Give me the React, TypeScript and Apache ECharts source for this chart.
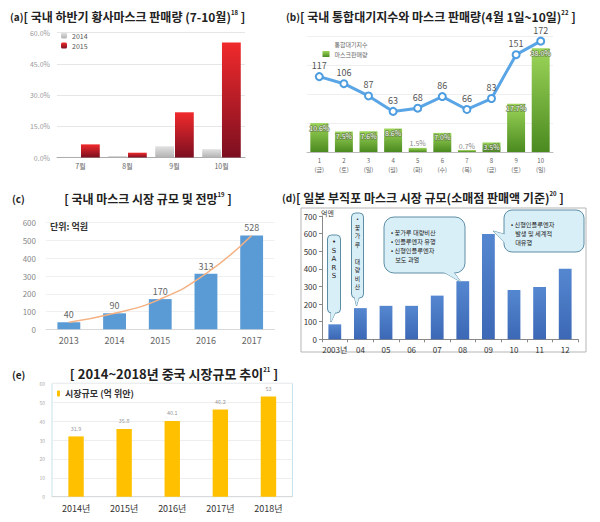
import React, { useEffect, useRef } from "react";
import * as echarts from "echarts";

// (a) 국내 하반기 황사마스크 판매량
const monthsA = ["7월", "8월", "9월", "10월"];
const sales2014 = [0.3, 0.7, 5.4, 4.0];
const sales2015 = [6.3, 2.3, 21.7, 55.2];
const ticksA = [0, 15, 30, 45, 60];

// (b) 통합대기지수와 마스크 판매량
const daysB = ["1\n(금)", "2\n(토)", "3\n(일)", "4\n(월)", "5\n(화)", "6\n(수)", "7\n(목)", "8\n(금)", "9\n(토)", "10\n(일)"];
const airIndex = [117, 106, 87, 63, 68, 86, 66, 83, 151, 172];
const maskSales = [10.6, 7.5, 7.6, 8.6, 1.5, 7.0, 0.7, 3.5, 17.7, 38.0];

// (c) 국내 마스크 시장 규모
const yearsC = ["2013", "2014", "2015", "2016", "2017"];
const marketC = [40, 90, 170, 313, 528];

// (d) 일본 부직포 마스크 시장 규모
const yearsD = ["2003년", "04", "05", "06", "07", "08", "09", "10", "11", "12"];
const marketD = [85, 177, 190, 190, 248, 330, 598, 280, 297, 400];

// (e) 중국 시장규모
const yearsE = ["2014년", "2015년", "2016년", "2017년", "2018년"];
const marketE = [31.9, 35.8, 40.1, 46.2, 53];

const FONT = "'Noto Sans CJK KR', 'Noto Sans', sans-serif";
const LATIN = "'DejaVu Sans', sans-serif";

const vgrad = (top: string, bottom: string) =>
  new echarts.graphic.LinearGradient(0, 0, 0, 1, [
    { offset: 0, color: top },
    { offset: 1, color: bottom },
  ]);

const titleRich = {
  p: { fontSize: 10, color: "#222", fontFamily: FONT, lineHeight: 14 },
  t: { fontSize: 12, fontWeight: "bold", color: "#222", fontFamily: FONT, lineHeight: 14 },
  s: { fontSize: 6, fontWeight: "bold", color: "#222", fontFamily: FONT, lineHeight: 8, verticalAlign: "top" },
};

function callout(rect: any, tail: number[][], lines: string[], tx: number, ty: number, align: string, lh: number, fs: number, family: string) {
  const fill = "#d9eff8";
  const stroke = "#5c8ea6";
  const els: any[] = [
    { type: "polygon", z: 100, shape: { points: tail }, style: { fill, stroke, lineWidth: 1 } },
    { type: "rect", z: 101, shape: { ...rect }, style: { fill, stroke, lineWidth: 1 } },
    { type: "polygon", z: 102, shape: { points: tail }, style: { fill, stroke: "none" } },
  ];
  lines.forEach((ln, i) => {
    if (!ln) return;
    els.push({
      type: "text", z: 103, x: tx, y: ty + i * lh,
      style: { text: ln, fill: "#222", fontSize: fs, fontFamily: family, align, verticalAlign: "middle" },
    });
  });
  return els;
}

export default function App() {
  const ref = useRef<HTMLDivElement>(null);
  useEffect(() => {
    if (!ref.current) return;
    const chart = echarts.init(ref.current, undefined, { renderer: "svg" });
    const option: any = {
      animation: false,
      backgroundColor: "#fff",
      textStyle: { fontFamily: FONT },
      title: [
        { left: 10, top: 9, padding: 0, text: "{p|(a)}{t|[ 국내 하반기 황사마스크 판매량 (7-10월)}{s|18}{t| ]}", textStyle: { rich: titleRich } },
        { left: 286, top: 9, padding: 0, text: "{p|(b)}{t|[ 국내 통합대기지수와 마스크 판매량(4월 1일~10일)}{s|22}{t| ]}", textStyle: { rich: titleRich } },
        { left: 12, top: 191, padding: 0, text: "{p|(c)}", textStyle: { rich: titleRich } },
        { left: 148, top: 191, padding: 0, textAlign: "center", text: "{t|[ 국내 마스크 시장 규모 및 전망}{s|19}{t| ]}", textStyle: { rich: titleRich } },
        { left: 282, top: 190, padding: 0, text: "{p|(d)}{t|[ 일본 부직포 마스크 시장 규모(소매점 판매액 기준)}{s|20}{t| ]}", textStyle: { rich: titleRich } },
        { left: 12, top: 367, padding: 0, text: "{p|(e)}", textStyle: { rich: titleRich } },
        { left: 174, top: 366, padding: 0, textAlign: "center", text: "{t|[ 2014~2018년 중국 시장규모 추이}{s|21}{t| ]}", textStyle: { rich: { ...titleRich, t: { ...titleRich.t, fontSize: 13, lineHeight: 15 } } } },
      ],
      legend: [
        {
          data: ["2014", "2015"], left: 61, top: 32, orient: "vertical", itemWidth: 6, itemHeight: 6, itemGap: 3,
          textStyle: { fontSize: 7, color: "#555" }, padding: 0,
        },
        {
          data: [{ name: "통합대기지수", icon: "emptyCircle" }, { name: "마스크판매량", icon: "rect" }],
          left: 322, top: 40, orient: "vertical", itemWidth: 7, itemHeight: 6, itemGap: 3,
          textStyle: { fontSize: 6, color: "#666" }, padding: 0,
        },
        {
          data: ["시장규모 (억 위안)"], left: 57, top: 389, itemWidth: 3, itemHeight: 6, padding: 0,
          textStyle: { fontSize: 9, fontWeight: "bold", color: "#333" },
        },
      ],
      grid: [
        { left: 57, top: 32.5, width: 188, height: 125 },
        { left: 307, top: 36, width: 246, height: 116 },
        { left: 46, top: 222.7, width: 228.5, height: 106.6 },
        { left: 322, top: 216, width: 256, height: 123.3 },
        { left: 52, top: 383.3, width: 240.5, height: 113.4, show: true, borderColor: "#c5e1ee", borderWidth: 1 },
      ],
      xAxis: [
        {
          type: "category", gridIndex: 0, data: monthsA,
          axisLine: { lineStyle: { color: "#aaa" } }, axisTick: { show: false },
          axisLabel: { fontSize: 7, color: "#666", margin: 5 },
        },
        {
          type: "category", gridIndex: 1, data: daysB,
          axisLine: { lineStyle: { color: "#bbb" } }, axisTick: { show: false },
          axisLabel: { fontSize: 6, color: "#666", margin: 4, lineHeight: 9, interval: 0 },
        },
        {
          type: "category", gridIndex: 2, data: yearsC,
          axisLine: { lineStyle: { color: "#d9d9d9" } }, axisTick: { show: false },
          axisLabel: { fontSize: 9, color: "#666", margin: 7 },
        },
        {
          type: "category", gridIndex: 3, data: yearsD,
          axisLine: { lineStyle: { color: "#888" } }, axisTick: { show: true, length: 3, lineStyle: { color: "#888" } },
          axisLabel: { fontSize: 8, color: "#333", margin: 6, interval: 0 },
        },
        {
          type: "category", gridIndex: 4, data: yearsE,
          axisLine: { lineStyle: { color: "#d9d9d9" } }, axisTick: { show: false },
          axisLabel: { fontSize: 9, color: "#333", margin: 7 },
        },
      ],
      yAxis: [
        {
          type: "value", gridIndex: 0, min: ticksA[0], max: ticksA[ticksA.length - 1], interval: 15,
          axisLine: { show: false }, axisTick: { show: false },
          axisLabel: { fontSize: 7, color: "#999", margin: 7, formatter: (v: number) => v.toFixed(1) + "%" },
          splitLine: { lineStyle: { color: "#e6e6e6" } },
        },
        {
          type: "value", gridIndex: 1, min: 0, max: 180, interval: 45,
          axisLine: { show: false }, axisTick: { show: false }, axisLabel: { show: false },
          splitLine: { lineStyle: { color: "#efefef" } },
        },
        {
          type: "value", gridIndex: 1, min: 0, max: 42.5, show: false, splitLine: { show: false },
        },
        {
          type: "value", gridIndex: 2, min: 0, max: 600, interval: 100,
          axisLine: { show: false }, axisTick: { show: false },
          axisLabel: { fontSize: 8, color: "#888", margin: 10 },
          splitLine: { lineStyle: { color: "#f0f0f0" } },
        },
        {
          type: "value", gridIndex: 3, min: 0, max: 700, interval: 100,
          axisLine: { show: true, lineStyle: { color: "#888" } }, axisTick: { show: true, length: 3, lineStyle: { color: "#888" } },
          axisLabel: { fontSize: 8, color: "#333", margin: 5 },
          splitLine: { show: false },
        },
        {
          type: "value", gridIndex: 4, min: 0, max: 60, interval: 10,
          axisLine: { show: false }, axisTick: { show: false },
          axisLabel: { fontSize: 5, color: "#aaa", margin: 7 },
          splitLine: { lineStyle: { color: "#eeeeee" } },
        },
      ],
      series: [
        {
          name: "2014", type: "bar", xAxisIndex: 0, yAxisIndex: 0, data: sales2014,
          barGap: "5%", barCategoryGap: "18%",
          itemStyle: { color: vgrad("#e2e2e2", "#b3b3b3") },
        },
        {
          name: "2015", type: "bar", xAxisIndex: 0, yAxisIndex: 0, data: sales2015,
          itemStyle: { color: vgrad("#f02a2c", "#7c0f20") },
        },
        {
          name: "마스크판매량", type: "bar", xAxisIndex: 1, yAxisIndex: 2, barWidth: "73%",
          data: maskSales.map((v) =>
            v < 3 ? { value: v, label: { position: "top", color: "#888", textBorderWidth: 0, distance: 1 } } : v
          ),
          itemStyle: { color: vgrad("#9cd559", "#4b8a20") },
          label: {
            show: true, position: "insideTop", distance: 1, fontSize: 7, color: "#f6f6f6",
            textBorderColor: "rgba(90,110,70,0.7)", textBorderWidth: 1.5,
            formatter: (p: any) => Number(p.value).toFixed(1) + "%",
          },
        },
        {
          name: "통합대기지수", type: "line", xAxisIndex: 1, yAxisIndex: 1, data: airIndex, z: 5,
          symbol: "circle", symbolSize: 7,
          lineStyle: { color: "#5aa5e6", width: 3 },
          itemStyle: { color: "#fff", borderColor: "#4d9de0", borderWidth: 2 },
          label: { show: true, position: "top", distance: 2, fontSize: 9, color: "#555" },
        },
        {
          name: "국내시장", type: "bar", xAxisIndex: 2, yAxisIndex: 3, data: marketC, barWidth: "50%",
          itemStyle: { color: "#5b9bd5" },
          label: { show: true, position: "top", distance: 3, fontSize: 9, color: "#666" },
        },
        {
          name: "국내추세", type: "line", xAxisIndex: 2, yAxisIndex: 3, data: marketC, smooth: true,
          symbol: "none", z: 5, lineStyle: { color: "#f4b183", width: 1.5 },
        },
        {
          name: "일본시장", type: "bar", xAxisIndex: 3, yAxisIndex: 4, data: marketD, barWidth: "50%",
          itemStyle: { color: vgrad("#5587d0", "#3c68b5") },
        },
        {
          name: "시장규모 (억 위안)", type: "bar", xAxisIndex: 4, yAxisIndex: 5, data: marketE, barWidth: "32%",
          itemStyle: { color: "#ffc000" },
          label: { show: true, position: "top", distance: 5, fontSize: 5.5, color: "#999" },
        },
      ],
      graphic: [
        { type: "rect", z: -1, shape: { x: 301, y: 208, width: 285, height: 144 }, style: { fill: "none", stroke: "#b5b5b5", lineWidth: 1 } },
        {
          type: "text", z: 50, x: 50, y: 222,
          style: { text: "단위: 억원", fontSize: 9, fontWeight: "bold", fill: "#333", fontFamily: FONT },
        },
        {
          type: "text", z: 50, x: 321, y: 209,
          style: { text: "억엔", fontSize: 7, fill: "#333", fontFamily: FONT },
        },
        ...callout({ x: 327.5, y: 235, width: 13, height: 78, r: 4 }, [[331, 310], [336.5, 310], [331, 322]],
          ["•", "S", "A", "R", "S"], 334, 242, "center", 8.6, 7, LATIN),
        ...callout({ x: 351.5, y: 213, width: 12, height: 85, r: 4 }, [[354, 295], [359.5, 295], [356.5, 306]],
          ["•", "꽃", "가", "루", "", "대", "량", "비", "산"], 357.5, 218.5, "center", 8.5, 5.9, FONT),
        ...callout({ x: 384, y: 217, width: 81, height: 56, r: 10 }, [[440, 270], [452, 270], [461, 282]],
          ["• 꽃가루 대량비산", "• 인플루엔자 유행", "• 신형인플루엔자", "   보도 과열"], 391, 232, "left", 9, 6.2, FONT),
        ...callout({ x: 504, y: 210, width: 80, height: 42, r: 8 }, [[507, 235], [507, 245], [493, 231]],
          ["• 신형인플루엔자", "   발생 및 세계적", "   대유행"], 511, 224, "left", 9, 6.2, FONT),
      ],
    };
    chart.setOption(option);
    return () => chart.dispose();
  }, []);
  return <div ref={ref} style={{ position: "absolute", left: 0, top: 0, width: 600, height: 522 }} />;
}
